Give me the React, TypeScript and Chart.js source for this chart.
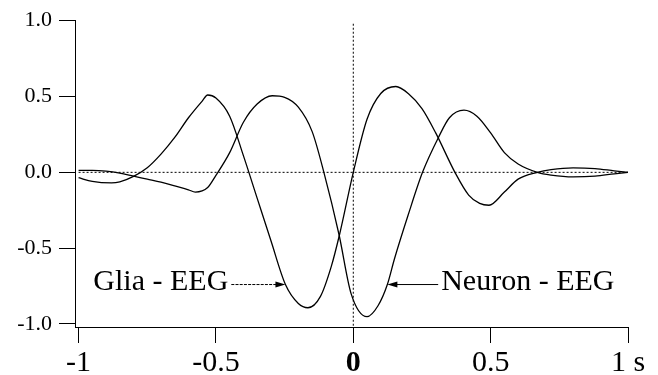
import React, { useEffect, useRef } from "react";
import { Chart, registerables } from "chart.js";

Chart.register(...registerables);

// ---- Data ----
const gliaTime = [
  -1.0, -0.95, -0.88, -0.85, -0.8, -0.75, -0.7, -0.65, -0.6, -0.55, -0.53, -0.5, -0.45, -0.4, -0.35,
  -0.3, -0.247, -0.2, -0.165, -0.12, -0.08, -0.05, 0.0, 0.05, 0.1, 0.155, 0.2, 0.25, 0.3, 0.37,
  0.42, 0.46, 0.494, 0.55, 0.6, 0.67, 0.72, 0.8, 0.88, 0.95, 1.0,
];
const gliaValue = [
  -0.035, -0.06, -0.07, -0.063, -0.027, 0.03, 0.12, 0.23, 0.36, 0.47, 0.51, 0.49, 0.37, 0.11, -0.17,
  -0.45, -0.74, -0.865, -0.893, -0.82, -0.62, -0.41, 0.0, 0.35, 0.52, 0.566, 0.52, 0.42, 0.26, 0.0,
  -0.15, -0.205, -0.217, -0.13, -0.045, 0.0, 0.018, 0.03, 0.025, 0.01, 0.0,
];
const neuronTime = [
  -1.0, -0.95, -0.9, -0.85, -0.8, -0.75, -0.7, -0.65, -0.6, -0.575, -0.53, -0.5, -0.45, -0.4, -0.35,
  -0.295, -0.25, -0.2, -0.15, -0.107, -0.052, -0.008, 0.05, 0.09, 0.124, 0.15, 0.2, 0.252, 0.31, 0.35,
  0.403, 0.45, 0.5, 0.55, 0.6, 0.67, 0.72, 0.8, 0.88, 0.95, 1.0,
];
const neuronValue = [
  0.013, 0.013, 0.008, -0.005, -0.025, -0.045, -0.065, -0.09, -0.115, -0.13, -0.1, -0.02, 0.13, 0.33, 0.45,
  0.505, 0.495, 0.43, 0.27, 0.0, -0.41, -0.8, -0.952, -0.88, -0.74, -0.57, -0.28, 0.0, 0.23, 0.36,
  0.41, 0.37, 0.26, 0.13, 0.055, 0.0, -0.018, -0.03, -0.025, -0.01, 0.0,
];

const zeroLineX = [-1, 1];
const zeroLineY = [0, 0];
const originLineX = [0, 0];
const originLineY = [0.98, -1.02];

const xTicks = [-1, -0.5, 0, 0.5, 1];
const xTickLabels = ["-1", "-0.5", "0", "0.5", "1 s"];
const yTicks = [-1, -0.5, 0, 0.5, 1];
const yTickLabels = ["-1.0", "-0.5", "0.0", "0.5", "1.0"];

const annotationLabels = ["Glia - EEG", "Neuron - EEG"];
const arrowStartX = [-0.444, 0.309];
const arrowTipX = [-0.247, 0.124];
const arrowY = [-0.74, -0.74];

const FAMILY = "'Liberation Serif', 'Times New Roman', serif";

const toPoints = (xs: number[], ys: number[]) => xs.map((x, i) => ({ x, y: ys[i] }));

const annotationPlugin = {
  id: "eegAnnotations",
  afterDatasetsDraw(chart: any) {
    const { ctx, scales } = chart;
    const xs = scales.x;
    const ys = scales.y;
    ctx.save();
    ctx.fillStyle = "#000";
    ctx.strokeStyle = "#000";
    annotationLabels.forEach((label, i) => {
      const x1 = xs.getPixelForValue(arrowStartX[i]);
      const x2 = xs.getPixelForValue(arrowTipX[i]);
      const yy = ys.getPixelForValue(arrowY[i]);
      const dir = Math.sign(x2 - x1);
      ctx.lineWidth = 1;
      ctx.setLineDash(i === 0 ? [3, 1.2] : []);
      ctx.beginPath();
      ctx.moveTo(x1, yy);
      ctx.lineTo(x2 - dir * 8, yy);
      ctx.stroke();
      ctx.setLineDash([]);
      ctx.beginPath();
      ctx.moveTo(x2, yy);
      ctx.lineTo(x2 - dir * 10, yy - 3);
      ctx.lineTo(x2 - dir * 10, yy + 3);
      ctx.closePath();
      ctx.fill();
      ctx.font = `30px ${FAMILY}`;
      ctx.textBaseline = "middle";
      ctx.textAlign = dir > 0 ? "right" : "left";
      ctx.fillText(label, x1 - dir * 3, yy - 2);
    });
    ctx.restore();
  },
};

export default function App() {
  const canvasRef = useRef<HTMLCanvasElement | null>(null);

  useEffect(() => {
    if (!canvasRef.current) return;
    const curve = {
      showLine: true,
      pointRadius: 0,
      borderColor: "#000",
      borderWidth: 1.3,
      cubicInterpolationMode: "monotone",
      fill: false,
    };
    const dotted = {
      showLine: true,
      pointRadius: 0,
      borderColor: "#000",
      borderWidth: 1,
      borderDash: [2, 2],
      fill: false,
    };
    const chart = new Chart(canvasRef.current, {
      type: "scatter",
      data: {
        datasets: [
          { ...dotted, label: "zero", data: toPoints(zeroLineX, zeroLineY) },
          { ...dotted, label: "origin", data: toPoints(originLineX, originLineY) },
          { ...curve, label: "Glia - EEG", data: toPoints(gliaTime, gliaValue) },
          { ...curve, label: "Neuron - EEG", data: toPoints(neuronTime, neuronValue) },
        ],
      } as any,
      options: {
        animation: false,
        responsive: true,
        maintainAspectRatio: false,
        layout: { padding: { top: 20.7, right: 30, left: 0, bottom: 0 } },
        plugins: { legend: { display: false }, tooltip: { enabled: false } },
        scales: {
          x: {
            type: "linear",
            min: -1.013,
            max: 1,
            afterBuildTicks: (s: any) => {
              s.ticks = xTicks.map((v) => ({ value: v }));
            },
            afterFit: (s: any) => {
              s.height = 48;
            },
            ticks: {
              autoSkip: false,
              maxRotation: 0,
              color: "#000",
              padding: 2,
              callback: (v: any) => xTickLabels[xTicks.indexOf(Number(v))],
              font: (c: any) => ({
                family: FAMILY,
                size: 30,
                weight: c.tick && c.tick.value === 0 ? "bold" : "normal",
              }),
            },
            grid: { drawOnChartArea: false, drawTicks: true, tickLength: 16, color: "#000", lineWidth: 1 },
            border: { display: true, color: "#000", width: 1 },
          },
          y: {
            type: "linear",
            min: -1.02,
            max: 1,
            afterBuildTicks: (s: any) => {
              s.ticks = yTicks.map((v) => ({ value: v }));
            },
            afterFit: (s: any) => {
              s.width = 75;
            },
            ticks: {
              color: "#000",
              padding: 7,
              callback: (v: any) => yTickLabels[yTicks.indexOf(Number(v))],
              font: { family: FAMILY, size: 22 },
            },
            grid: { drawOnChartArea: false, drawTicks: true, tickLength: 16, color: "#000", lineWidth: 1 },
            border: { display: true, color: "#000", width: 1 },
          },
        },
      } as any,
      plugins: [annotationPlugin],
    });
    return () => chart.destroy();
  }, []);

  return (
    <div style={{ position: "fixed", left: 0, top: 0, width: 658, height: 375, background: "#fff" }}>
      <canvas ref={canvasRef} style={{ display: "block" }} />
    </div>
  );
}
